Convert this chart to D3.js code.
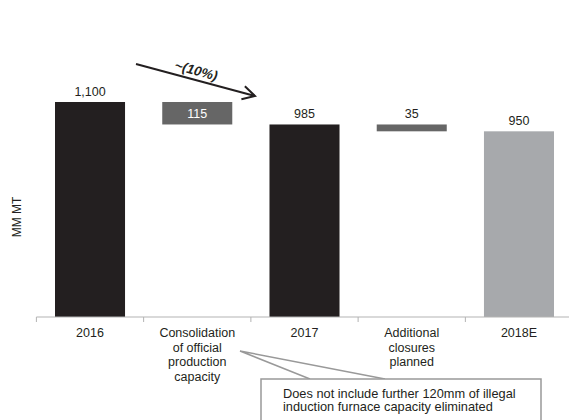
<!DOCTYPE html>
<html><head><meta charset="utf-8">
<script src="https://cdn.jsdelivr.net/npm/d3@7"></script>
<style>body{margin:0;background:#fff}svg{display:block;font-family:"Liberation Sans",Arial,sans-serif}</style>
</head><body>
<svg id="c" width="569" height="420"></svg>
<script>
const categories = ["2016","Consolidation","2017","Additional","2018E"];
const tickLabels = [["2016"],["Consolidation","of official","production","capacity"],["2017"],["Additional","closures","planned"],["2018E"]];
const values = [1100, -115, 985, -35, 950];
const kinds = ["total","delta","total","delta","total"];
const valueLabels = ["1,100","115","985","35","950"];
const barColors = ["#231f20","#666666","#231f20","#666666","#a7a9ac"];
const yTitle = "MM MT";
const arrowText = "~(10%)";
const noteLines = ["Does not include further 120mm of illegal","induction furnace capacity eliminated"];

const svg = d3.select("#c");
const axisY = 317;
const x = d3.scaleBand().domain(categories).range([36.4, 572.6]).padding(0);
const y = d3.scaleLinear().domain([0, 1100]).range([axisY, 102]);
const barW = x.bandwidth() * 0.653;

let running = 0;
const bars = categories.map((c, i) => {
  let lo, hi;
  if (kinds[i] === "total") { lo = 0; hi = values[i]; running = values[i]; }
  else { hi = running; lo = running + values[i]; running = lo; }
  return {c, lo, hi, i};
});

svg.selectAll("rect.bar").data(bars).join("rect")
  .attr("x", d => x(d.c) + (x.bandwidth() - barW) / 2)
  .attr("y", d => y(d.hi))
  .attr("width", barW)
  .attr("height", d => y(d.lo) - y(d.hi))
  .attr("fill", d => barColors[d.i]);

const inside = d => kinds[d.i] === "delta" && d.hi - d.lo > 60;
svg.selectAll("text.val").data(bars).join("text")
  .attr("x", d => x(d.c) + x.bandwidth() / 2)
  .attr("y", d => inside(d) ? (y(d.hi) + y(d.lo)) / 2 + 4.5 : y(d.hi) - 6)
  .attr("text-anchor", "middle")
  .attr("font-size", 12.5)
  .attr("fill", d => inside(d) ? "#ffffff" : "#231f20")
  .text(d => valueLabels[d.i]);

const axisColor = "#b3b3b3";
svg.append("line").attr("x1", x.range()[0]).attr("x2", 569).attr("y1", axisY).attr("y2", axisY)
  .attr("stroke", axisColor).attr("stroke-width", 1);
const edges = categories.map(c => x(c));
svg.selectAll("line.tick").data(edges).join("line")
  .attr("x1", d => d).attr("x2", d => d).attr("y1", axisY).attr("y2", axisY + 5)
  .attr("stroke", axisColor);

categories.forEach((c, i) => {
  const t = svg.append("text").attr("text-anchor", "middle").attr("font-size", 12.5).attr("fill", "#231f20");
  tickLabels[i].forEach((ln, j) => {
    t.append("tspan").attr("x", x(c) + x.bandwidth() / 2).attr("y", 337 + j * 14.5).text(ln);
  });
});

svg.append("text").attr("transform", "translate(21,217) rotate(-90)")
  .attr("text-anchor", "middle").attr("font-size", 12).attr("fill", "#231f20").text(yTitle);

const a0 = [136, 64], a1 = [255, 96];
svg.append("line").attr("x1", a0[0]).attr("y1", a0[1]).attr("x2", a1[0]).attr("y2", a1[1])
  .attr("stroke", "#231f20").attr("stroke-width", 2);
const ang = Math.atan2(a1[1] - a0[1], a1[0] - a0[0]);
const hl = 14, ha = 0.5;
svg.append("path")
  .attr("d", `M${a1[0] - hl * Math.cos(ang - ha)},${a1[1] - hl * Math.sin(ang - ha)}L${a1[0]},${a1[1]}L${a1[0] - hl * Math.cos(ang + ha)},${a1[1] - hl * Math.sin(ang + ha)}`)
  .attr("fill", "none").attr("stroke", "#231f20").attr("stroke-width", 2);
svg.append("text").attr("transform", `translate(195,75) rotate(${ang * 180 / Math.PI})`)
  .attr("text-anchor", "middle").attr("font-size", 13.5).attr("font-weight", "bold").attr("font-style", "italic")
  .attr("fill", "#231f20").text(arrowText);

const cc = "#999999";
svg.append("path").attr("d", "M310,379L240,351L385,379")
  .attr("fill", "none").attr("stroke", cc).attr("stroke-width", 1.5).attr("stroke-linejoin", "miter");
svg.append("rect").attr("x", 261).attr("y", 379).attr("width", 280).attr("height", 60)
  .attr("fill", "#ffffff").attr("stroke", cc).attr("stroke-width", 1.5);
const nt = svg.append("text").attr("font-size", 12.8).attr("fill", "#231f20");
noteLines.forEach((ln, j) => nt.append("tspan").attr("x", 283).attr("y", 397.5 + j * 13.8).text(ln));
</script>
</body></html>
